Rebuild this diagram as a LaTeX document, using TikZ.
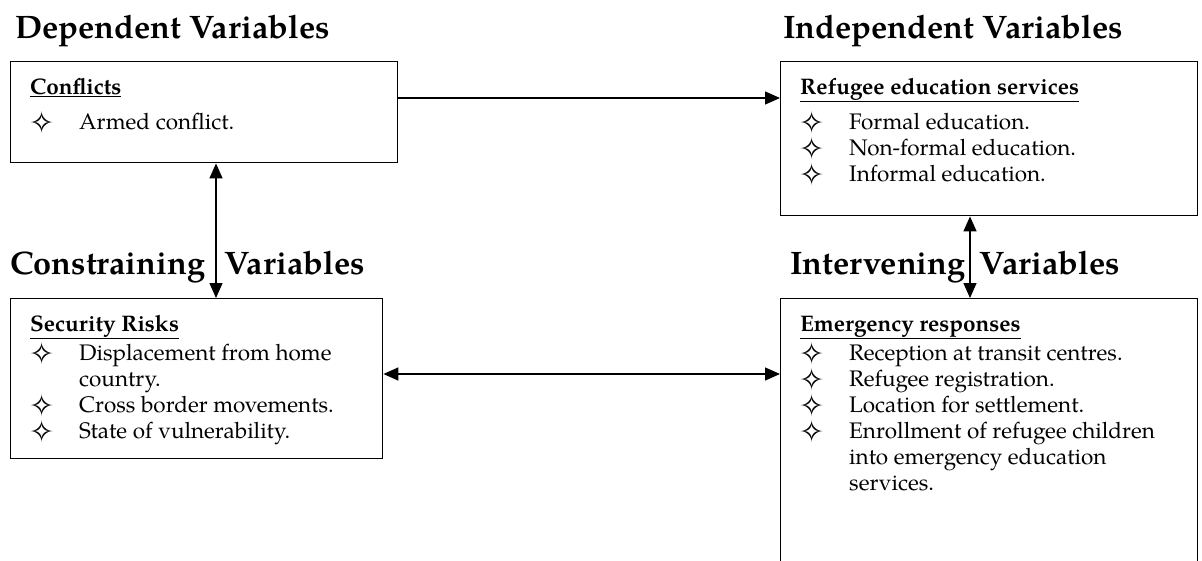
\documentclass[tikz,border=0pt]{standalone}
\usepackage{fontspec}
\setmainfont{texgyrepagella}[Extension=.otf, UprightFont=*-regular, BoldFont=*-bold, ItalicFont=*-italic, BoldItalicFont=*-bolditalic]
\newfontfamily\symfont{DejaVu Sans}
\usetikzlibrary{arrows.meta}
\tikzset{
  box/.style={draw, line width=1.4pt, inner sep=0pt, anchor=north west},
  heading/.style={anchor=base west, inner sep=0pt, font=\fontsize{32.5}{36}\selectfont\bfseries},
  ttl/.style={anchor=base west, inner sep=0pt, font=\fontsize{22.5}{26}\selectfont\bfseries},
  txt/.style={anchor=base west, inner sep=0pt, font=\fontsize{22.5}{26}\selectfont},
  bul/.style={anchor=base west, inner sep=0pt, text height=14pt, text depth=0pt, font=\fontsize{30}{32}\selectfont\symfont},
  conn/.style={line width=1.4pt, -{Triangle[length=15pt,width=13pt]}},
  dconn/.style={line width=1.4pt, {Triangle[length=15pt,width=13pt]}-{Triangle[length=15pt,width=13pt]}},
}
\newcommand{\starbul}{\smash{✧}}
\begin{document}
\begin{tikzpicture}[x=1pt,y=-1pt]
\useasboundingbox (0,0) rectangle (1202,560);
% headings
\node[heading] (hdep) at (15,38) {Dependent Variables};
\node[heading] (hind) at (783,38) {Independent Variables};
\node[heading] (hcon) at (10,274) {Constraining\hspace{11pt} Variables};
\node[heading] (hint) at (790,274) {Intervening\hspace{6pt} Variables};
% boxes
\node[box, minimum width=387pt, minimum height=101pt] (conf) at (10,61) {};
\node[box, minimum width=417pt, minimum height=154pt] (refu) at (780,61) {};
\node[box, minimum width=372pt, minimum height=160pt] (secu) at (10,298) {};
\node[box, fill=white, minimum width=417pt, minimum height=280pt] (emer) at (780,298) {};
% conflicts
\node[ttl] (t1) at (30,94) {\underline{Conflicts}};
\node[bul] (b11) at (29,133) {\starbul};
\node[txt] (x11) at (79,129) {Armed conflict.};
% refugee education
\node[ttl] (t2) at (800,94) {\underline{Refugee education services}};
\node[bul] (b21) at (799,133) {\starbul};
\node[txt] (x21) at (849,129) {Formal education.};
\node[bul] (b22) at (799,159) {\starbul};
\node[txt] (x22) at (849,155) {Non-formal education.};
\node[bul] (b23) at (799,185) {\starbul};
\node[txt] (x23) at (849,181) {Informal education.};
% security
\node[ttl] (t3) at (30,331) {\underline{Security Risks}};
\node[bul] (b31) at (29,364) {\starbul};
\node[txt] (x31) at (79,360) {Displacement from home};
\node[txt] (x31b) at (79,386) {country.};
\node[bul] (b32) at (29,416) {\starbul};
\node[txt] (x32) at (79,412) {Cross border movements.};
\node[bul] (b33) at (29,442) {\starbul};
\node[txt] (x33) at (79,438) {State of vulnerability.};
% emergency
\node[ttl] (t4) at (800,331) {\underline{Emergency responses}};
\node[bul] (b41) at (799,364) {\starbul};
\node[txt] (x41) at (849,360) {Reception at transit centres.};
\node[bul] (b42) at (799,390) {\starbul};
\node[txt] (x42) at (849,386) {Refugee registration.};
\node[bul] (b43) at (799,416) {\starbul};
\node[txt] (x43) at (849,412) {Location for settlement.};
\node[bul] (b44) at (799,442) {\starbul};
\node[txt] (x44) at (849,438) {Enrollment of refugee children};
\node[txt] (x44b) at (849,464) {into emergency education};
\node[txt] (x44c) at (849,490) {services.};
% connectors
\coordinate (c1) at (0,98);
\coordinate (c2) at (216,0);
\coordinate (c3) at (970,0);
\coordinate (c4) at (0,374);
\draw[conn] (conf.east |- c1) -- (refu.west |- c1);
\draw[dconn] (conf.south -| c2) -- (secu.north -| c2);
\draw[dconn] (refu.south -| c3) -- (emer.north -| c3);
\draw[dconn] (secu.east |- c4) -- (emer.west |- c4);
\end{tikzpicture}
\end{document}
